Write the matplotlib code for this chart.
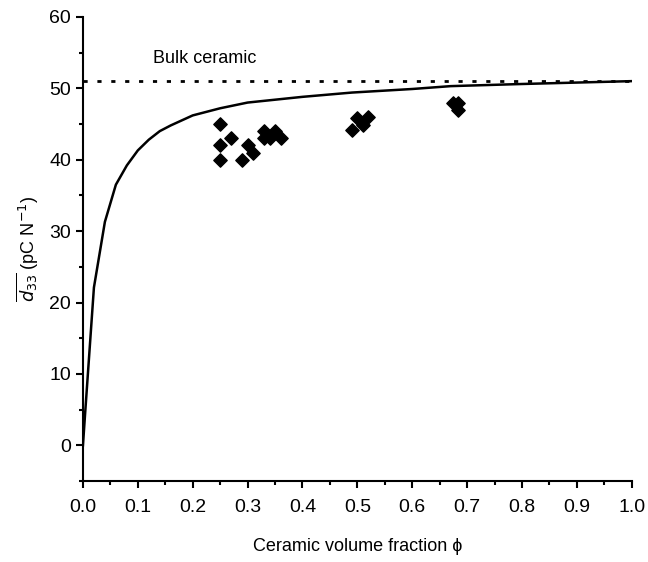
import matplotlib
matplotlib.use("Agg")
import matplotlib.pyplot as plt
from matplotlib.ticker import MultipleLocator

# model curve
phi_model = [0.0, 0.004, 0.02, 0.04, 0.06, 0.08, 0.10, 0.12, 0.14, 0.16, 0.20,
             0.25, 0.30, 0.40, 0.49, 0.60, 0.67, 0.80, 0.90, 1.0]
d33_model = [0.0, 4.5, 22.1, 31.3, 36.5, 39.2, 41.3, 42.8, 44.0, 44.8, 46.2,
             47.2, 48.0, 48.8, 49.4, 49.9, 50.3, 50.6, 50.8, 51.0]

# measured samples
phi_meas = [0.25, 0.25, 0.25, 0.27, 0.29, 0.30, 0.31, 0.33, 0.33, 0.34, 0.35, 0.36,
            0.49, 0.50, 0.51, 0.52, 0.675, 0.684, 0.684]
d33_meas = [45, 42, 40, 43, 40, 42, 41, 44, 43, 43, 44, 43,
            44.2, 45.8, 44.9, 46, 48, 48, 47]

bulk = 51.0

plt.rcParams['font.family'] = ['Liberation Sans', 'DejaVu Sans']
plt.rcParams['mathtext.fontset'] = 'dejavusans'

fig = plt.figure(figsize=(6.48, 5.62), dpi=100)
ax = fig.add_axes([0.128, 0.144, 0.847, 0.826])

ax.plot(phi_model, d33_model, color='black', lw=1.8)
ax.scatter(phi_meas, d33_meas, marker='D', s=46, color='black', zorder=3)
ax.axhline(bulk, color='black', lw=2, linestyle=(0, (1.5, 3.5)))
ax.text(0.128, 53.6, 'Bulk ceramic', fontsize=13)

ax.set_xlim(0, 1.0)
ax.set_ylim(-5, 60)
ax.xaxis.set_major_locator(MultipleLocator(0.1))
ax.xaxis.set_minor_locator(MultipleLocator(0.05))
ax.yaxis.set_major_locator(MultipleLocator(10))
ax.yaxis.set_minor_locator(MultipleLocator(5))
ax.set_yticks([0, 10, 20, 30, 40, 50, 60])
ax.set_xticks([round(0.1 * i, 1) for i in range(11)])
ax.set_xticklabels([f'{0.1 * i:.1f}' for i in range(11)])

for s in ['top', 'right']:
    ax.spines[s].set_visible(False)
for s in ['left', 'bottom']:
    ax.spines[s].set_linewidth(1.5)

ax.tick_params(which='major', direction='out', length=5, width=1.5, labelsize=14)
ax.tick_params(which='minor', direction='out', length=3, width=1.5)
ax.tick_params(axis='x', which='major', pad=8)

ax.set_xlabel('Ceramic volume fraction ϕ', fontsize=13, labelpad=16)
ax.set_ylabel(r'$\overline{d_{33}}$ (pC N$^{-1}$)', fontsize=13, labelpad=6)

fig.savefig('out.png', dpi=100)
